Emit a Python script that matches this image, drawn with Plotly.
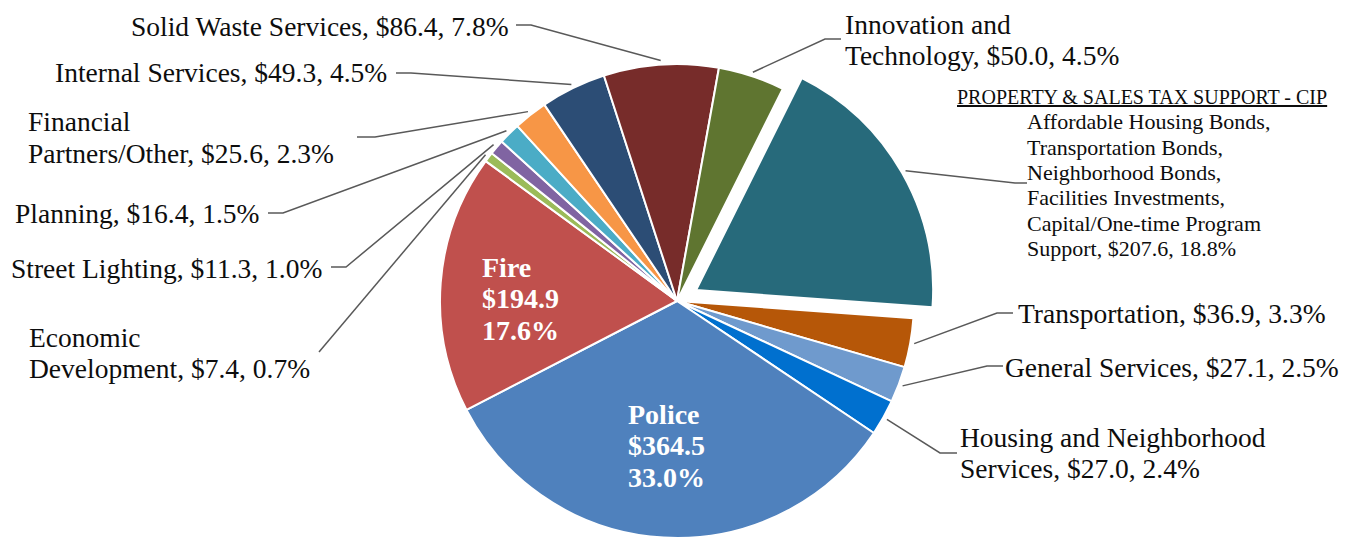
import math
import plotly.graph_objects as go

# ---------------- data ----------------
categories = [
    "PROPERTY & SALES TAX SUPPORT - CIP", "Transportation", "General Services",
    "Housing and Neighborhood Services", "Police", "Fire", "Economic Development",
    "Street Lighting", "Planning", "Financial Partners/Other", "Internal Services",
    "Solid Waste Services", "Innovation and Technology",
]
values = [207.6, 36.9, 27.1, 27.0, 364.5, 194.9, 7.4, 11.3, 16.4, 25.6, 49.3, 86.4, 50.0]
colors = ["#276A7B", "#B65708", "#6F9ACD", "#0070CF", "#4F81BD", "#C0504D", "#9BBB59",
          "#8064A2", "#4BACC6", "#F79646", "#2C4D75", "#772C2A", "#5F7530"]
# how each label is broken into lines (layout text)
label_lines = [
    None,
    ["Transportation"],
    ["General Services"],
    ["Housing and Neighborhood", "Services"],
    ["Police"],
    ["Fire"],
    ["Economic", "Development"],
    ["Street Lighting"],
    ["Planning"],
    ["Financial", "Partners/Other"],
    ["Internal Services"],
    ["Solid Waste Services"],
    ["Innovation and", "Technology"],
]
property_detail = ["Affordable Housing Bonds,", "Transportation Bonds,", "Neighborhood Bonds,",
                   "Facilities Investments,", "Capital/One-time Program", "Support"]
pulled_index = 0

# ---------------- layout constants ----------------
W, H = 1352, 538
CX, CY = 677, 301          # pie centre, px
R_PX = 237                 # pie radius, px
PULL_PX = 22
ROTATION = 26.5
FONT = "Liberation Serif"
TXT = "#0d0d0d"
LINE = "#595959"
PAD = 3                    # annotation inner padding compensation

total = sum(values)
pct = [f"{v / total * 100:.1f}%" for v in values]


def mid_angle(i):
    start = ROTATION + 360.0 * sum(values[:i]) / total
    return math.radians(start + 180.0 * values[i] / total)


def px(x, y):
    return x / W, 1 - y / H


# pull offset of the exploded slice
a_pull = mid_angle(pulled_index)
pdx, pdy = PULL_PX * math.sin(a_pull), -PULL_PX * math.cos(a_pull)

def domain(cx, cy):
    return dict(x=[(cx - R_PX) / W, (cx + R_PX) / W],
                y=[max(0.0, (H - cy - R_PX) / H), (H - cy + R_PX) / H])

clear = "rgba(0,0,0,0)"
main_colors = [clear if i == pulled_index else c for i, c in enumerate(colors)]
main_lc = [clear if i == pulled_index else "white" for i in range(len(values))]
main_lw = [0 if i == pulled_index else 2 for i in range(len(values))]
pull_colors = [c if i == pulled_index else clear for i, c in enumerate(colors)]
pull_lw = [2 if i == pulled_index else 0 for i in range(len(values))]
pull_lc = ["white" if i == pulled_index else clear for i in range(len(values))]

fig = go.Figure()
fig.add_trace(go.Pie(
    labels=categories, values=values, sort=False, direction="clockwise", rotation=ROTATION,
    marker=dict(colors=main_colors, line=dict(color=main_lc, width=main_lw)),
    textinfo="none", showlegend=False, domain=domain(CX, CY),
))
fig.add_trace(go.Pie(
    labels=categories, values=values, sort=False, direction="clockwise", rotation=ROTATION,
    marker=dict(colors=pull_colors, line=dict(color=pull_lc, width=pull_lw)),
    textinfo="none", showlegend=False, domain=domain(CX + pdx, CY + pdy),
))

annotations = []
shapes = []


def add_text(text, x, y, anchor, size=27.5, color=TXT, bold=False):
    x = x - PAD if anchor == "left" else x + PAD
    xx, yy = px(x, y)
    annotations.append(dict(
        text=f"<b>{text}</b>" if bold else text, x=xx, y=yy, xref="paper", yref="paper",
        xanchor=anchor, yanchor="middle", showarrow=False, align=anchor,
        font=dict(family=FONT, size=size, color=color)))


# label placement: (text x, first line y, anchor, elbow points)
placement = {
    0: (1027, None, "left", [(1015, 183), (1027, 183)]),
    1: (1019, 313, "left", [(997, 313), (1013, 313)]),
    2: (1006, 367, "left", [(987, 366), (1003, 366)]),
    3: (961, 437, "left", [(940, 453), (957, 453)]),
    6: (30, 337, "left", [(319, 352)]),
    7: (321, 268, "right", [(346, 267), (331, 267)]),
    8: (258, 213, "right", [(283, 213), (268, 213)]),
    9: (29, 122, "left", [(375, 137), (357, 137)]),
    10: (386, 73, "right", [(411, 73), (396, 73)]),
    11: (508, 26, "right", [(531, 25), (516, 25)]),
    12: (846, 24, "left", [(825, 39), (841, 39)]),
}
LINE_GAP = 31.5

for i, (tx, ty, anc, elbow) in placement.items():
    a = mid_angle(i)
    cx, cy = (CX + pdx, CY + pdy) if i == pulled_index else (CX, CY)
    r = R_PX + 4
    ax, ay = cx + r * math.sin(a), cy - r * math.cos(a)
    pts = [(ax, ay)] + elbow
    path = "M " + " L ".join(f"{px(x, y)[0]:.5f},{px(x, y)[1]:.5f}" for x, y in pts)
    shapes.append(dict(type="path", path=path, xref="paper", yref="paper",
                       line=dict(color=LINE, width=1.5)))
    if i == pulled_index:
        continue
    lines = list(label_lines[i])
    lines[-1] = f"{lines[-1]}, ${values[i]:.1f}, {pct[i]}"
    for k, ln in enumerate(lines):
        add_text(ln, tx, ty + k * LINE_GAP, anc)

# exploded slice label block
add_text(f"<u>{categories[pulled_index]}</u>", 958, 97, "left", size=20)
detail = list(property_detail)
detail[-1] = f"{detail[-1]}, ${values[pulled_index]:.1f}, {pct[pulled_index]}"
for k, ln in enumerate(detail):
    add_text(ln, 1028, 122 + k * 25.3, "left", size=22)

# inside labels (bold white)
inside = {5: (483, 267), 4: (629, 414)}
for i, (tx, ty) in inside.items():
    for k, ln in enumerate([label_lines[i][0], f"${values[i]:.1f}", pct[i]]):
        add_text(ln, tx, ty + k * 31.5, "left", size=28, color="white", bold=True)

fig.update_layout(
    width=W, height=H, autosize=False,
    margin=dict(l=0, r=0, t=0, b=0),
    paper_bgcolor="white", plot_bgcolor="white",
    annotations=annotations, shapes=shapes,
    font=dict(family=FONT),
)
fig.write_html(
    "out.html",
    config={"displayModeBar": False},
    post_script="document.body.style.margin='0';document.body.style.overflow='hidden';",
)
